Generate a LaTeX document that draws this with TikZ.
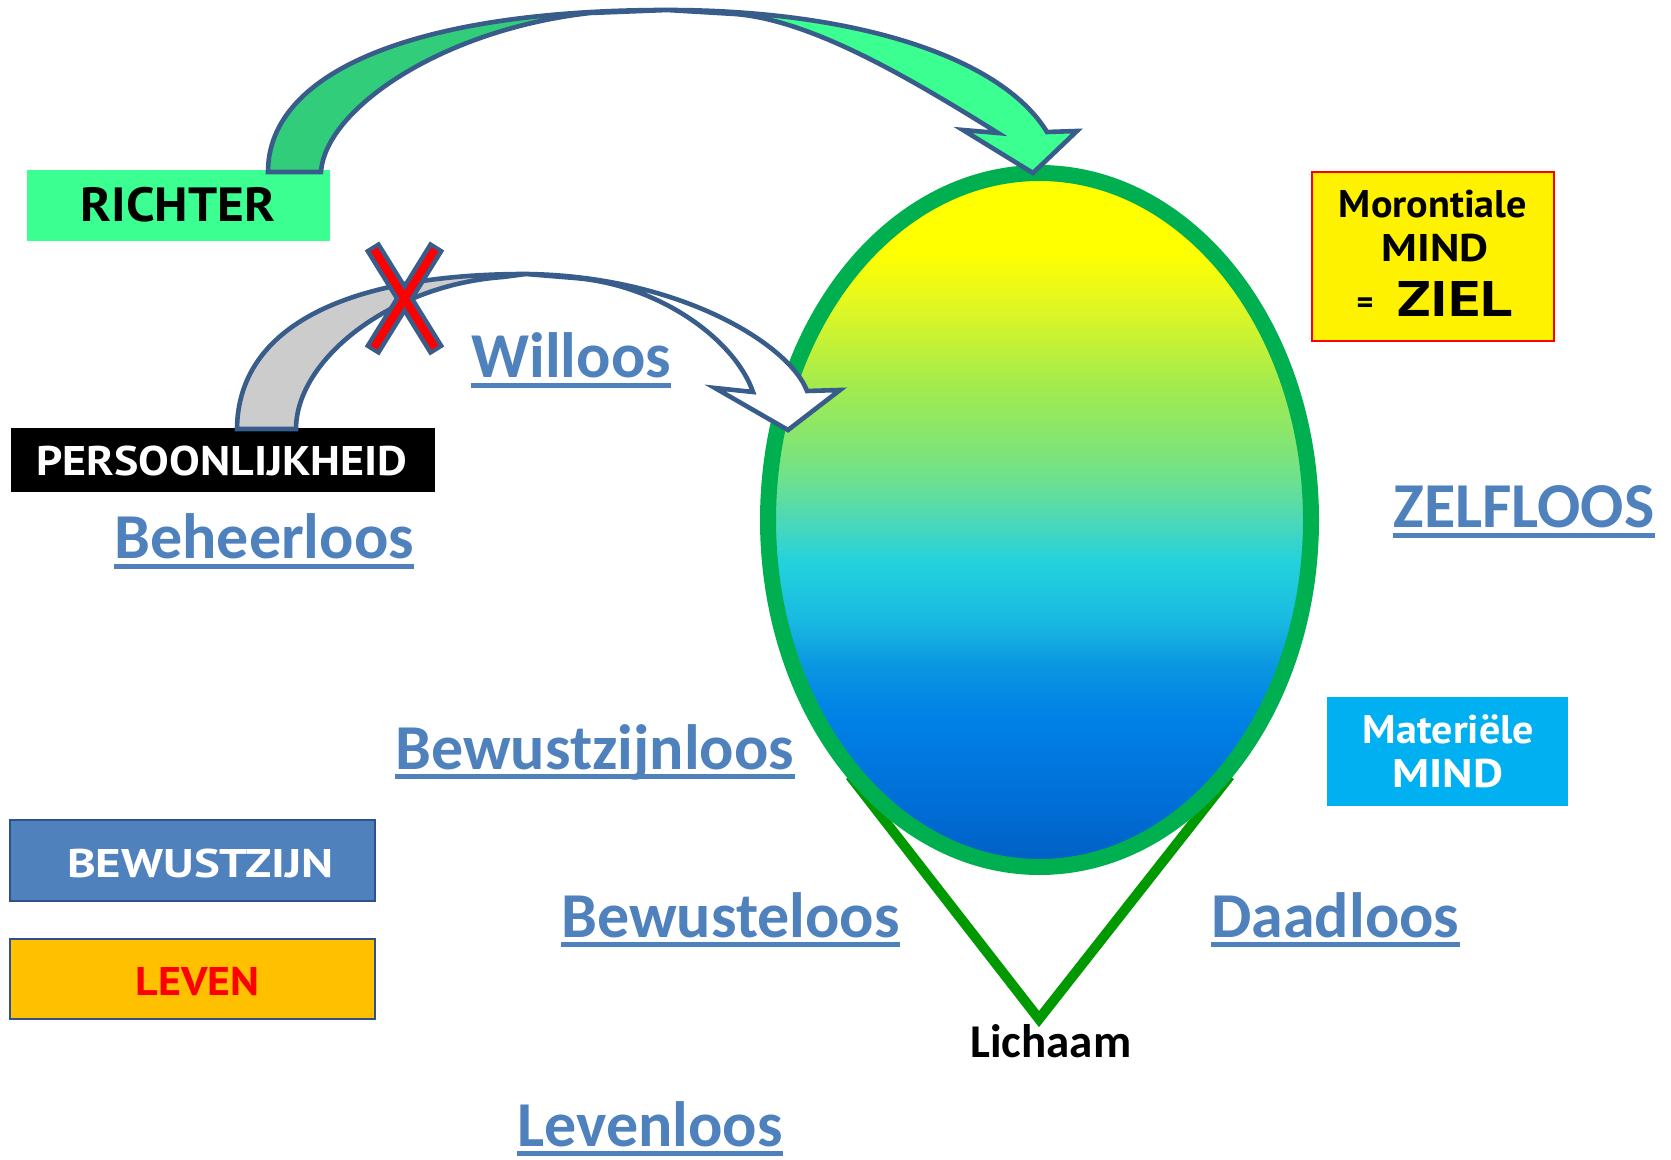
\documentclass[tikz,border=0pt]{standalone}
\usepackage{graphicx}
\usepackage{fontspec}
\setmainfont{Carlito}
\newfontfamily\comicf{PT Sans}
\newfontfamily\calibf{Carlito}
\definecolor{wordblue}{HTML}{4F81BD}
\definecolor{arrowline}{HTML}{385D8A}
\definecolor{richtergreen}{RGB}{60,255,145}
\definecolor{darkband}{RGB}{50,205,122}
\definecolor{eggline}{HTML}{00B050}
\definecolor{vgreen}{HTML}{009900}
\definecolor{matblue}{HTML}{00B0F0}
\definecolor{boxblue}{HTML}{4F81BD}
\definecolor{boxedge}{HTML}{2F528F}
\definecolor{amber}{HTML}{FFC000}
\definecolor{greyband}{HTML}{CCCCCC}
\definecolor{sa}{RGB}{0,95,195}
\definecolor{sb}{RGB}{0,110,215}
\definecolor{sc}{RGB}{0,130,230}
\definecolor{sd}{RGB}{10,150,225}
\definecolor{se}{RGB}{25,185,225}
\definecolor{sf}{RGB}{35,210,220}
\definecolor{sg}{RGB}{70,215,190}
\definecolor{sh}{RGB}{110,225,140}
\definecolor{si}{RGB}{135,230,110}
\definecolor{sj}{RGB}{160,235,80}
\definecolor{sk}{RGB}{230,248,30}
\definecolor{sl}{RGB}{255,255,0}
\pgfdeclareverticalshading{eggshade}{100bp}{color(0bp)=(sa); color(25bp)=(sa); color(29.5bp)=(sb); color(36bp)=(sc); color(39.5bp)=(sd); color(42.75bp)=(se); color(47bp)=(sf); color(49.5bp)=(sg); color(53bp)=(sh); color(56bp)=(si); color(59.4bp)=(sj); color(66bp)=(sk); color(69.3bp)=(sl); color(100bp)=(sl)}
\newcommand{\wide}[2]{\scalebox{#1}[1]{#2}}
\begin{document}
\begin{tikzpicture}[x=0.5pt,y=-0.5pt,
  box/.style={inner sep=0pt, outer sep=0pt},
  word/.style={font=\calibf\bfseries\fontsize{32pt}{32pt}\selectfont, text=wordblue, inner sep=0pt, anchor=base west},
  uline/.style={draw=wordblue, line width=2.5pt},
  comic/.style={inner sep=0pt, font=\comicf\bfseries\fontsize{#1}{#1}\selectfont},
  outl/.style={draw=arrowline, line width=2.3pt, line join=miter},
  vline/.style={draw=vgreen, line width=5pt, line join=miter}]
\useasboundingbox[fill=white] (0,0) rectangle (1671,1160);

% boxes
\node[box, fill=richtergreen, minimum width=151.5pt, minimum height=35.35pt] (richter) at (178.2,205.3) {};
\node[comic=24pt, text=black] (richtert) at (178,205) {\wide{1.07}{RICHTER}};
\node[box, fill=black, minimum width=212.15pt, minimum height=32pt] (persoon) at (222.9,460) {};
\node[comic=20.7pt, text=white] (persoont) at (222,461.5) {\wide{1.11}{PERSOONLIJKHEID}};
\node[box, fill=boxblue, draw=boxedge, line width=1pt, minimum width=182.35pt, minimum height=40.5pt] (bewust) at (192.7,860.5) {};
\node[comic=20pt, text=white] (bewustt) at (200.5,863) {\wide{1.22}{BEWUSTZIJN}};
\node[box, fill=amber, draw=boxedge, line width=1pt, minimum width=182.35pt, minimum height=40pt] (leven) at (192.7,979) {};
\node[comic=20pt, text=red] (levent) at (197.5,981) {\wide{1.1}{LEVEN}};
\node[box, fill=yellow, draw=red, line width=1pt, minimum width=121pt, minimum height=84.5pt] (ziel) at (1433,256.5) {};
\node[comic=19.3pt, anchor=base] (moront) at (1433,218) {\wide{1.04}{Morontiale}};
\node[comic=19.3pt, anchor=base] (mindA) at (1435,262) {\wide{1.16}{MIND}};
\node[comic=16pt] (eq) at (1365,305.5) {=};
\node[comic=25pt, anchor=base west] (zielt) at (1397,317) {\wide{1.24}{ZIEL}};
\node[box, fill=matblue, minimum width=120.5pt, minimum height=54.5pt] (mat) at (1447.5,751.5) {};
\node[comic=20pt, text=white, anchor=base] (matA) at (1448.5,743) {\wide{1.05}{Materiële}};
\node[comic=20pt, text=white, anchor=base] (matB) at (1448,787) {\wide{1.16}{MIND}};

% body (V) and egg
\coordinate (vl) at (850,776);
\coordinate (vtip) at (1039,1019);
\coordinate (vr) at (1230,776);
\draw[vline] (vl) -- (vtip) -- (vr);
\coordinate (egg) at (1039.5,520);
\shadedraw[shading=eggshade, draw=eggline, line width=8pt] (egg) ellipse [x radius=271.5, y radius=347];
\node[inner sep=0pt, anchor=base west, font=\calibf\bfseries\fontsize{23.5pt}{23.5pt}\selectfont] (lich) at (970,1057) {Lichaam};

% blue words
\node[word] (willoos) at (471,378) {Willoos};
\node[word] (beheer) at (114,559) {Beheerloos};
\node[word] (zelf) at (1393,528) {ZELFLOOS};
\node[word] (bzl) at (395,769) {Bewustzijnloos};
\node[word] (bwl) at (561,937) {Bewusteloos};
\node[word] (daad) at (1211,937) {Daadloos};
\node[word] (leven2) at (517,1146) {Levenloos};
\foreach \n in {willoos,beheer,zelf,bzl,bwl,daad,leven2}
  \draw[uline] ([yshift=-3.75pt]\n.base west) -- ([yshift=-3.75pt]\n.base east);

% green curved arrow
\fill[darkband] (268,172) .. controls (268,70) and (420,10) .. (667,10) -- (590,13) .. controls (440,30) and (325,110) .. (321,172) -- cycle;
\draw[outl] (268,172) .. controls (268,70) and (420,10) .. (667,10) -- (590,13) .. controls (440,30) and (325,110) .. (321,172) -- cycle;
\filldraw[outl, fill=richtergreen] (667,10) .. controls (850,10) and (1000,55) .. (1047,132) -- (1077,131) -- (1033,173) -- (963,130) -- (998,133) .. controls (905,75) and (810,20) .. (735,14) -- cycle;

% grey / white curved arrow
\filldraw[outl, fill=greyband] (237,429) .. controls (238,325) and (350,274) .. (526,274) -- (503,277) .. controls (390,285) and (296,360) .. (296,429) -- cycle;
\filldraw[outl, fill=white] (526,274) .. controls (680,276) and (790,345) .. (807,391) -- (840,390) -- (788,430) -- (715,388) -- (753,392) .. controls (735,340) and (660,285) .. (575,278) -- cycle;

% red cross
\coordinate (xa) at (372,246);
\coordinate (xb) at (437,351);
\coordinate (xc) at (437,246);
\coordinate (xd) at (372,351);
\draw[arrowline, line width=8.5pt] (xa) -- (xb);
\draw[arrowline, line width=8.5pt] (xc) -- (xd);
\draw[red, line width=4pt, shorten <=2pt, shorten >=2pt] (xa) -- (xb);
\draw[red, line width=4pt, shorten <=2pt, shorten >=2pt] (xc) -- (xd);
\end{tikzpicture}
\end{document}
